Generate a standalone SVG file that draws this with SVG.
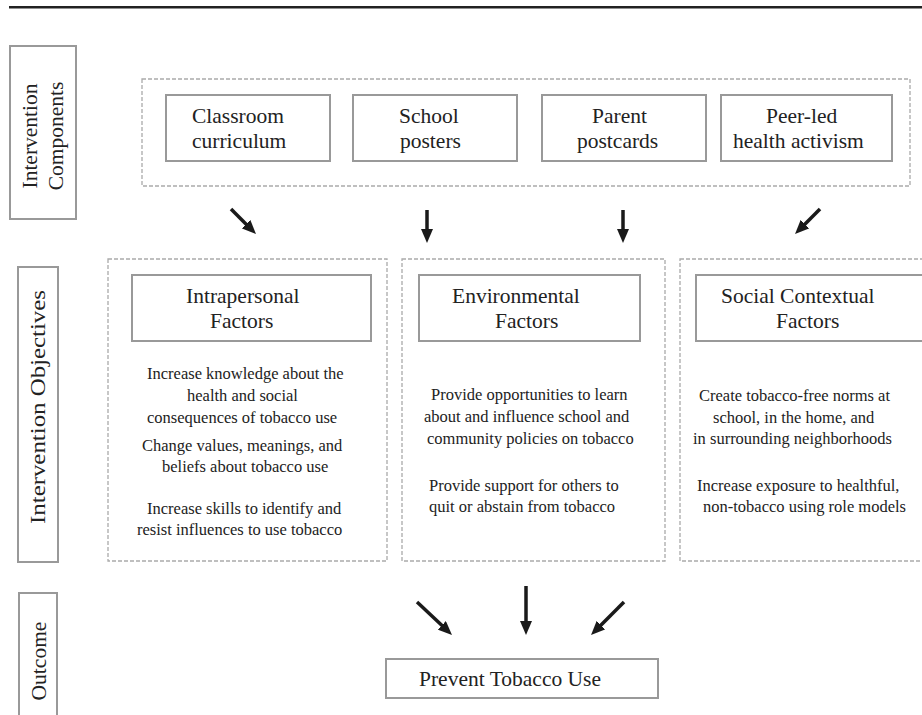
<svg xmlns="http://www.w3.org/2000/svg" width="922" height="715" viewBox="0 0 922 715">
<defs>
<style>
.box{fill:#fff;stroke:#999;stroke-width:2}
.dash{fill:none;stroke:#aaa;stroke-width:1.3;stroke-dasharray:4 2}
.lbl{font-family:"Liberation Serif","Times New Roman",serif;font-size:21.5px;fill:#222}
.body{font-family:"Liberation Serif","Times New Roman",serif;font-size:16.5px;fill:#222}
.arr{stroke:#1a1a1a;stroke-width:3.5;fill:none;marker-end:url(#ah)}
</style>
<marker id="ah" markerUnits="userSpaceOnUse" markerWidth="14" markerHeight="12" refX="4" refY="6" orient="auto">
<path d="M0,0 L14,6 L0,12 z" fill="#1a1a1a"/>
</marker>
</defs>
<rect x="9" y="6" width="913" height="2.5" fill="#222"/>

<g id="label-components">
<rect class="box" x="10" y="46" width="66" height="173"/>
<text class="lbl" text-anchor="middle" transform="translate(37,136) rotate(-90)">Intervention</text>
<text class="lbl" text-anchor="middle" transform="translate(63,136) rotate(-90)">Components</text>
</g>
<g id="label-objectives">
<rect class="box" x="18" y="267" width="40" height="295"/>
<text class="lbl" text-anchor="middle" textLength="234" lengthAdjust="spacingAndGlyphs" transform="translate(45,407) rotate(-90)">Intervention Objectives</text>
</g>
<g id="label-outcome">
<rect class="box" x="19" y="593" width="38" height="130"/>
<text class="lbl" text-anchor="middle" transform="translate(46,661) rotate(-90)">Outcome</text>
</g>

<g id="components-group">
<rect class="dash" x="142" y="79" width="768" height="107"/>
</g>
<g id="classroom">
<rect class="box" x="166" y="95" width="164" height="66"/>
<text class="lbl" x="192" y="123">Classroom</text>
<text class="lbl" x="192" y="148">curriculum</text>
</g>
<g id="posters">
<rect class="box" x="353" y="95" width="164" height="66"/>
<text class="lbl" x="399" y="123">School</text>
<text class="lbl" x="400" y="148">posters</text>
</g>
<g id="postcards">
<rect class="box" x="542" y="95" width="164" height="66"/>
<text class="lbl" x="592" y="123">Parent</text>
<text class="lbl" x="577" y="148">postcards</text>
</g>
<g id="peer">
<rect class="box" x="721" y="95" width="171" height="66"/>
<text class="lbl" x="766" y="123">Peer-led</text>
<text class="lbl" x="733" y="148">health activism</text>
</g>

<g id="intrapersonal">
<rect class="dash" x="108" y="259" width="279" height="302"/>
<rect class="box" x="132" y="275" width="239" height="66"/>
<text class="lbl" x="186" y="303">Intrapersonal</text>
<text class="lbl" x="210" y="328">Factors</text>
<text class="body" x="147" y="379">Increase knowledge about the</text>
<text class="body" x="187" y="401">health and social</text>
<text class="body" x="147" y="423">consequences of tobacco use</text>
<text class="body" x="142" y="451">Change values, meanings, and</text>
<text class="body" x="162" y="472">beliefs about tobacco use</text>
<text class="body" x="147" y="514">Increase skills to identify and</text>
<text class="body" x="137" y="535">resist influences to use tobacco</text>
</g>
<g id="environmental">
<rect class="dash" x="402" y="259" width="263" height="302"/>
<rect class="box" x="419" y="275" width="221" height="66"/>
<text class="lbl" x="452" y="303">Environmental</text>
<text class="lbl" x="495" y="328">Factors</text>
<text class="body" x="431" y="400">Provide opportunities to learn</text>
<text class="body" x="424" y="422">about and influence school and</text>
<text class="body" x="427" y="444">community policies on tobacco</text>
<text class="body" x="429" y="491">Provide support for others to</text>
<text class="body" x="429" y="512">quit or abstain from tobacco</text>
</g>
<g id="social">
<rect class="dash" x="680" y="259" width="260" height="302"/>
<rect class="box" x="696" y="275" width="240" height="66"/>
<text class="lbl" x="721" y="303">Social Contextual</text>
<text class="lbl" x="776" y="328">Factors</text>
<text class="body" x="699" y="401">Create tobacco-free norms at</text>
<text class="body" x="713" y="423">school, in the home, and</text>
<text class="body" x="693" y="444">in surrounding neighborhoods</text>
<text class="body" x="697" y="491">Increase exposure to healthful,</text>
<text class="body" x="703" y="512">non-tobacco using role models</text>
</g>
<g id="outcome">
<rect class="box" x="386" y="659" width="272" height="39"/>
<text class="lbl" x="419" y="686">Prevent Tobacco Use</text>
</g>

<g id="connectors">
<line class="arr" x1="231" y1="209" x2="248.9" y2="226.9"/>
<line class="arr" x1="427" y1="210" x2="427" y2="233"/>
<line class="arr" x1="623" y1="210" x2="623" y2="233"/>
<line class="arr" x1="820" y1="209" x2="802.1" y2="226.9"/>
<line class="arr" x1="417" y1="602" x2="444.7" y2="628.1"/>
<line class="arr" x1="526" y1="586" x2="526" y2="625"/>
<line class="arr" x1="624" y1="602" x2="598.1" y2="627.9"/>
</g>
</svg>
